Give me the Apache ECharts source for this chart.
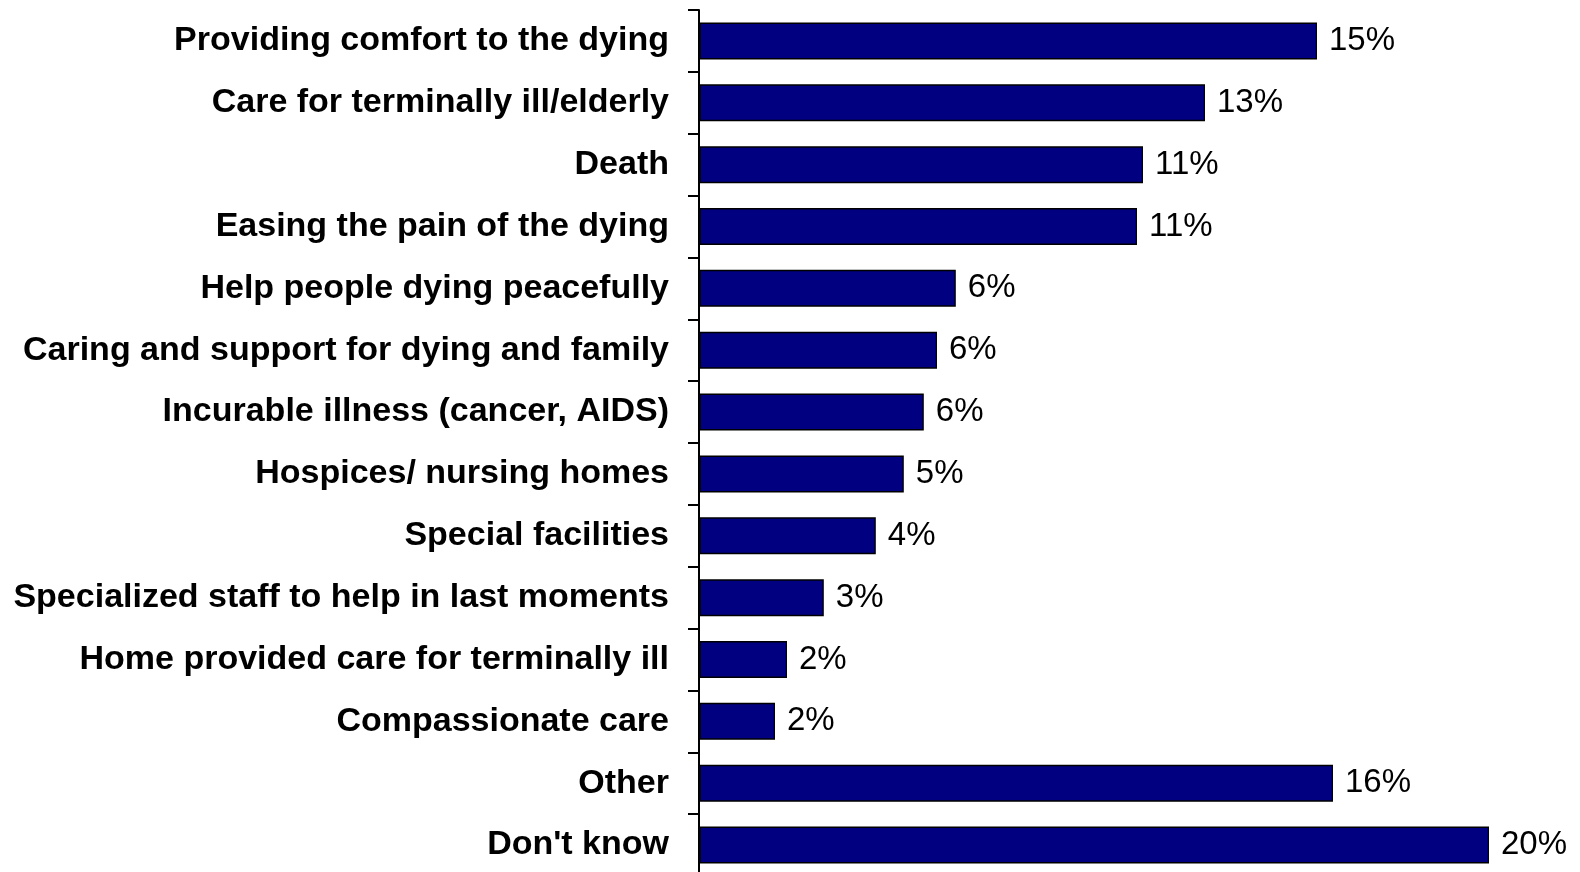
<!DOCTYPE html>
<html>
<head>
<meta charset="utf-8">
<script src="https://cdn.jsdelivr.net/npm/echarts@6/dist/echarts.min.js"></script>
<style>
html,body{margin:0;padding:0;background:#fff;}
#main{width:1580px;height:872px;}
</style>
</head>
<body>
<div id="main"></div>
<script>
const categories = [
  "Providing comfort to the dying",
  "Care for terminally ill/elderly",
  "Death",
  "Easing the pain of the dying",
  "Help people dying peacefully",
  "Caring and support for dying and family",
  "Incurable illness (cancer, AIDS)",
  "Hospices/ nursing homes",
  "Special facilities",
  "Specialized staff to help in last moments",
  "Home provided care for terminally ill",
  "Compassionate care",
  "Other",
  "Don't know"
];
const values = [15.45, 12.65, 11.1, 10.95, 6.42, 5.95, 5.62, 5.12, 4.42, 3.12, 2.2, 1.9, 15.85, 19.75];

const chart = echarts.init(document.getElementById('main'), null, {renderer: 'canvas'});
chart.setOption({
  animation: false,
  backgroundColor: '#ffffff',
  grid: {left: 699, top: 10, width: 880, height: 866, containLabel: false, outerBoundsMode: 'none'},
  xAxis: {
    type: 'value', min: 0, max: 22, show: false
  },
  yAxis: {
    type: 'category', data: categories, inverse: true,
    axisLine: {show: true, lineStyle: {color: '#000', width: 2}},
    axisTick: {show: true, length: 11, lineStyle: {color: '#000', width: 2}},
    axisLabel: {
      margin: 30, color: '#000', fontFamily: 'Liberation Sans, Arial, sans-serif',
      fontWeight: 'bold', fontSize: 34, padding: [5, 0, 0, 0]
    }
  },
  series: [{
    type: 'bar', data: values, barWidth: 37,
    itemStyle: {color: '#000080', borderColor: '#000', borderWidth: 1.5},
    label: {
      show: true, position: 'right', distance: 12, color: '#000',
      fontFamily: 'Liberation Sans, Arial, sans-serif', fontSize: 33, padding: [4, 0, 0, 0],
      formatter: p => Math.round(p.value) + '%'
    }
  }]
});
</script>
</body>
</html>
